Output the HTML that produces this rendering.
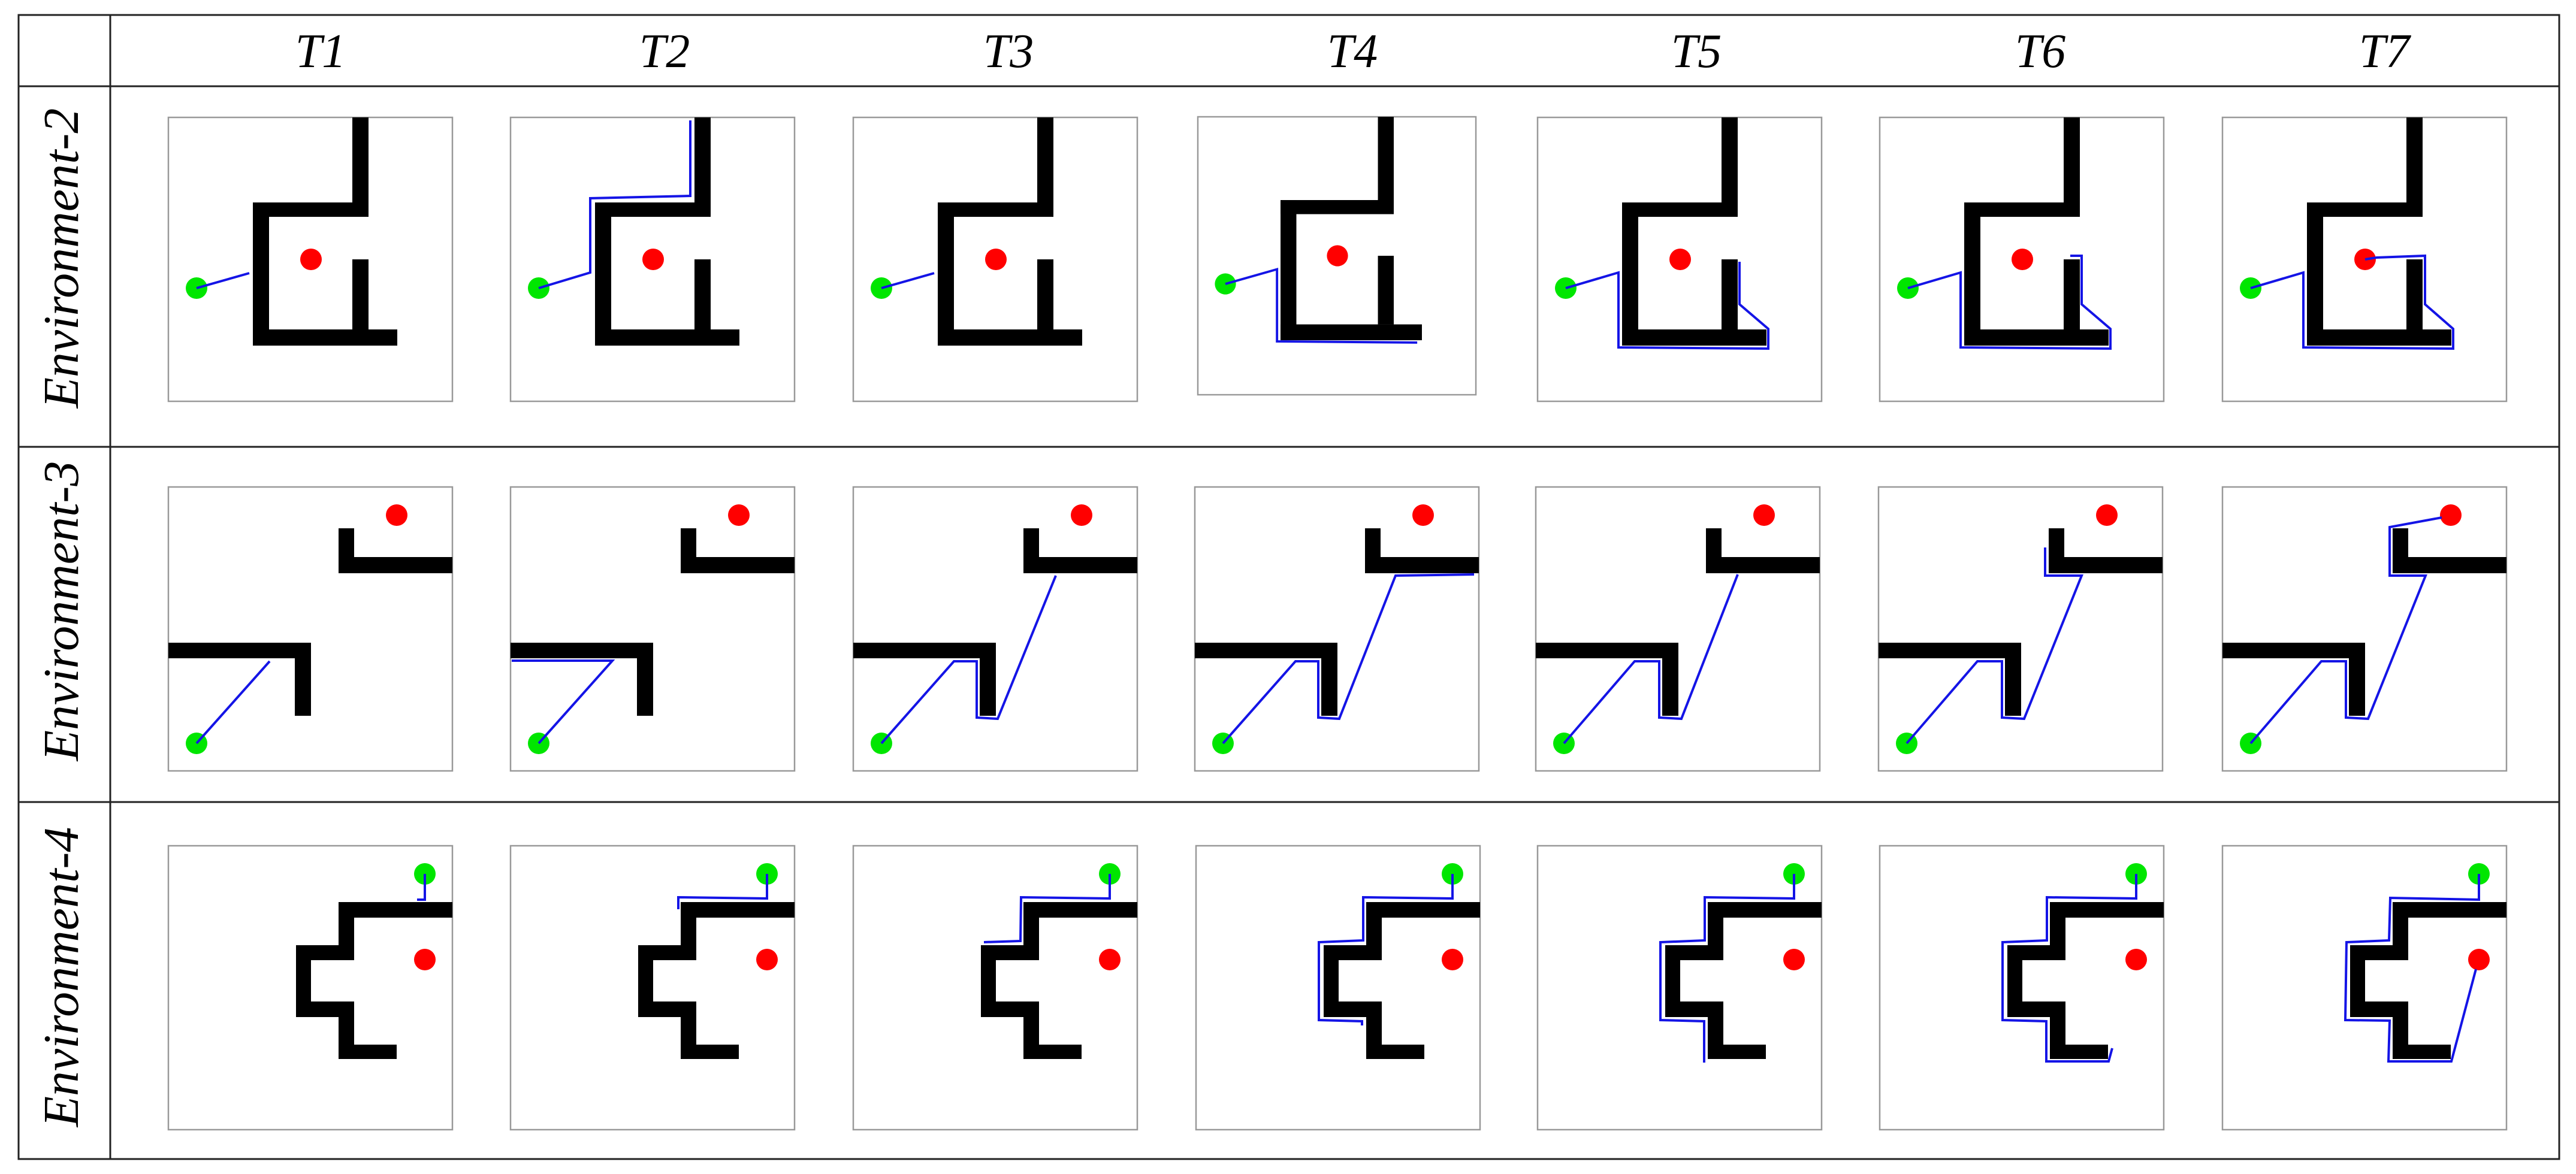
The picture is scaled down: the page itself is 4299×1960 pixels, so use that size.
<!DOCTYPE html>
<html><head><meta charset="utf-8">
<style>
html,body{margin:0;padding:0;background:#fff;}
svg{display:block;}
.p{fill:none;stroke:#1414e6;stroke-width:4;}
.t{font-family:"Liberation Serif","Times New Roman",serif;font-style:italic;}
</style></head>
<body>
<svg width="4299" height="1960" viewBox="0 0 4299 1960" xmlns="http://www.w3.org/2000/svg">
<defs>
  <g id="frame"><rect x="0" y="0" width="474" height="474" fill="#fff" stroke="#999" stroke-width="2.5"/></g>
  <g id="m2">
    <use href="#frame"/>
    <g fill="#000" stroke="none">
    <rect x="307" y="0" width="27" height="166"/>
    <rect x="141" y="142" width="193" height="24"/>
    <rect x="141" y="142" width="27" height="239"/>
    <rect x="141" y="354" width="241" height="27"/>
    <rect x="307" y="237" width="27" height="117"/>
    </g>
    <circle cx="47" cy="285" r="18" fill="#00e600" stroke="none"/>
    <circle cx="238" cy="237" r="18" fill="#ff0000" stroke="none"/>
  </g>
  <g id="m3">
    <use href="#frame"/>
    <g fill="#000" stroke="none">
    <rect x="284" y="69" width="26" height="75"/>
    <rect x="284" y="117" width="190" height="27"/>
    <rect x="0" y="260" width="238" height="26"/>
    <rect x="211" y="260" width="27" height="122"/>
    </g>
    <circle cx="47" cy="428" r="18" fill="#00e600" stroke="none"/>
    <circle cx="381" cy="47" r="18" fill="#ff0000" stroke="none"/>
  </g>
  <g id="m4">
    <use href="#frame"/>
    <g fill="#000" stroke="none">
    <rect x="284" y="94" width="190" height="26"/>
    <rect x="284" y="94" width="26" height="97"/>
    <rect x="213" y="166" width="97" height="25"/>
    <rect x="213" y="166" width="25" height="120"/>
    <rect x="213" y="260" width="97" height="26"/>
    <rect x="284" y="260" width="26" height="96"/>
    <rect x="284" y="332" width="97" height="24"/>
    </g>
    <circle cx="428" cy="47" r="18" fill="#00e600" stroke="none"/>
    <circle cx="428" cy="190" r="18" fill="#ff0000" stroke="none"/>
  </g>
</defs>

<g fill="none" stroke="#222" stroke-width="3">
  <rect x="31" y="25" width="4240" height="1910"/>
  <line x1="184" y1="25" x2="184" y2="1935"/>
  <line x1="31" y1="144" x2="4271" y2="144"/>
  <line x1="31" y1="746" x2="4271" y2="746"/>
  <line x1="31" y1="1339" x2="4271" y2="1339"/>
</g>

<g class="t" font-family="'Liberation Serif', 'Times New Roman', serif" font-style="italic" font-size="80" text-anchor="middle" fill="#000">
  <text x="535" y="112">T1</text>
  <text x="1109" y="112">T2</text>
  <text x="1683" y="112">T3</text>
  <text x="2257" y="112">T4</text>
  <text x="2831" y="112">T5</text>
  <text x="3405" y="112">T6</text>
  <text x="3979" y="112">T7</text>
</g>
<g class="t" font-family="'Liberation Serif', 'Times New Roman', serif" font-style="italic" font-size="84" text-anchor="middle" fill="#000">
  <text transform="translate(130,431) rotate(-90)">Environment-2</text>
  <text transform="translate(130,1020) rotate(-90)">Environment-3</text>
  <text transform="translate(130,1631) rotate(-90)">Environment-4</text>
</g>

<g transform="translate(281,196)"><use href="#m2"/><path class="p" d="M47 285 L135 260"/></g>
<g transform="translate(852,196)"><use href="#m2"/><path class="p" d="M47 285 L133 259 L133 135 L300 131 L300 5"/></g>
<g transform="translate(1424,196)"><use href="#m2"/><path class="p" d="M47 285 L135 260"/></g>
<g transform="translate(1999,195) scale(0.979)"><use href="#m2"/><path class="p" d="M47 285 L135 260 L135 383 L374 385"/></g>
<g transform="translate(2566,196)"><use href="#m2"/><path class="p" d="M47 285 L135 259 L135 384 L385 386 L385 353 L337 312 L337 241"/></g>
<g transform="translate(3137,196)"><use href="#m2"/><path class="p" d="M47 285 L135 259 L135 384 L385 386 L385 353 L337 312 L337 231 L318 231"/></g>
<g transform="translate(3709,196)"><use href="#m2"/><path class="p" d="M47 285 L135 259 L135 384 L385 386 L385 353 L338 312 L338 231 L257 234 L238 237"/></g>

<g transform="translate(281,813)"><use href="#m3"/><path class="p" d="M47 428 L169 291"/></g>
<g transform="translate(852,813)"><use href="#m3"/><path class="p" d="M47 428 L170 290 L2 290"/></g>
<g transform="translate(1424,813)"><use href="#m3"/><path class="p" d="M47 428 L168 291 L206 291 L206 385 L241 387 L338 148"/></g>
<g transform="translate(1994,813)"><use href="#m3"/><path class="p" d="M47 428 L168 291 L206 291 L206 385 L241 387 L335 148 L466 146"/></g>
<g transform="translate(2563,813)"><use href="#m3"/><path class="p" d="M47 428 L165 291 L206 291 L206 385 L243 387 L337 146"/></g>
<g transform="translate(3135,813)"><use href="#m3"/><path class="p" d="M47 428 L165 291 L206 291 L206 385 L243 387 L339 148 L278 148 L278 101"/></g>
<g transform="translate(3709,813)"><use href="#m3"/><path class="p" d="M47 428 L165 291 L206 291 L206 385 L243 387 L339 148 L279 148 L279 67 L366 51"/></g>

<g transform="translate(281,1412)"><use href="#m4"/><path class="p" d="M428 47 L428 90 L415 90"/></g>
<g transform="translate(852,1412)"><use href="#m4"/><path class="p" d="M428 47 L428 88 L280 86 L280 106"/></g>
<g transform="translate(1424,1412)"><use href="#m4"/><path class="p" d="M428 47 L428 88 L280 86 L279 159 L218 161"/></g>
<g transform="translate(1996,1412)"><use href="#m4"/><path class="p" d="M428 47 L428 88 L279 86 L279 158 L205 161 L205 291 L277 293 L277 300"/></g>
<g transform="translate(2566,1412)"><use href="#m4"/><path class="p" d="M428 47 L428 88 L279 86 L279 158 L205 161 L205 291 L278 293 L278 362"/></g>
<g transform="translate(3137,1412)"><use href="#m4"/><path class="p" d="M428 47 L428 88 L279 86 L279 158 L205 161 L205 291 L278 293 L278 360 L382 360 L388 338"/></g>
<g transform="translate(3709,1412)"><use href="#m4"/><path class="p" d="M428 47 L428 90 L280 87 L278 158 L207 161 L205 291 L279 292 L277 360 L382 360 L423 206"/></g>
</svg>
</body></html>
